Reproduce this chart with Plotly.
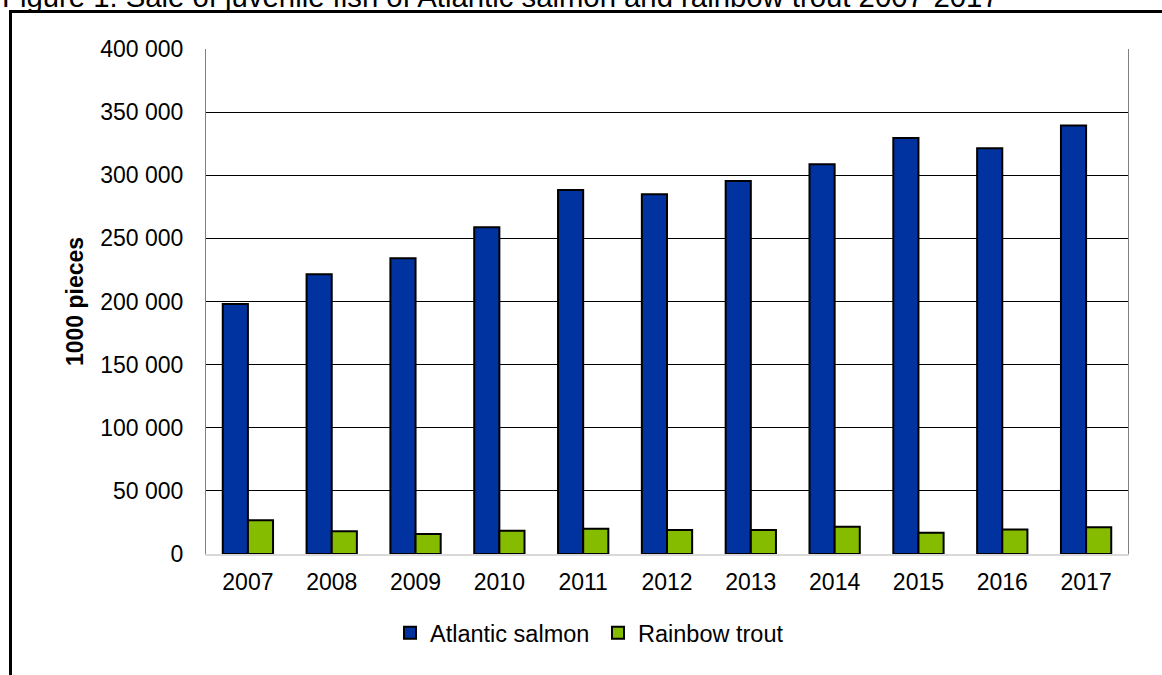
import plotly.graph_objects as go

years = ["2007", "2008", "2009", "2010", "2011", "2012", "2013", "2014", "2015", "2016", "2017"]
atlantic_salmon = [198000, 221500, 234200, 258800, 288300, 285000, 295400, 308700, 329500, 321300, 339500]
rainbow_trout = [26700, 18000, 15800, 18500, 20000, 19000, 19000, 21600, 16900, 19500, 21100]
y_ticks = [0, 50000, 100000, 150000, 200000, 250000, 300000, 350000, 400000]
y_tick_text = ["0", "50 000", "100 000", "150 000", "200 000", "250 000", "300 000", "350 000", "400 000"]

FONT = "Liberation Sans, Arial, sans-serif"
W, H = 1162, 675
L, R, T, B = 206, 34, 49, 121
PW, PH = W - L - R, H - T - B

def px_x(p):
    return (p - L) / PW

def px_y(p):
    return (H - B - p) / PH

fig = go.Figure()
fig.add_trace(go.Bar(x=years, y=atlantic_salmon, name="Atlantic salmon",
                     marker=dict(color="#0033A0", line=dict(color="black", width=2))))
fig.add_trace(go.Bar(x=years, y=rainbow_trout, name="Rainbow trout",
                     marker=dict(color="#85BC00", line=dict(color="black", width=2))))

fig.update_layout(
    width=W, height=H,
    margin=dict(l=L, r=R, t=T, b=B),
    paper_bgcolor="white", plot_bgcolor="white",
    font=dict(family=FONT, size=23, color="black"),
    barmode="group", bargap=0.4, bargroupgap=0,
    showlegend=True,
    legend=dict(orientation="h", x=px_x(390), xanchor="left", y=px_y(633), yanchor="middle",
                font=dict(size=23.5), bgcolor="rgba(0,0,0,0)", itemclick=False,
                entrywidth=163, entrywidthmode="pixels", tracegroupgap=0),
    xaxis=dict(type="category", showline=True, linecolor="#d9d9d9", linewidth=2,
               ticks="", showgrid=False, ticklabelstandoff=6, tickfont=dict(size=23)),
    yaxis=dict(range=[0, 400000], tickvals=y_ticks, ticktext=y_tick_text,
               showgrid=True, gridcolor="black", gridwidth=1,
               showline=True, linecolor="#808080", linewidth=1, mirror=True,
               ticks="", ticklabelstandoff=17, zeroline=False, tickfont=dict(size=23),
               title=dict(text="<b>1000 pieces</b>", font=dict(size=23), standoff=10)),
    shapes=[dict(type="rect", xref="paper", yref="paper",
                 x0=px_x(10.5), x1=px_x(1180), y0=px_y(11.5), y1=px_y(700),
                 line=dict(color="black", width=3), fillcolor="rgba(0,0,0,0)", layer="above")],
    annotations=[dict(text="Figure 1. Sale of juvenile fish of Atlantic salmon and rainbow trout 2007-2017",
                      xref="paper", yref="paper", x=px_x(0), y=px_y(-3.5), xanchor="left", yanchor="middle",
                      showarrow=False, font=dict(size=29.3, family=FONT, color="black"))],
)

fig.write_html("out.html", config={"displayModeBar": False},
               post_script="document.body.style.margin='0';document.body.style.padding='0';")
